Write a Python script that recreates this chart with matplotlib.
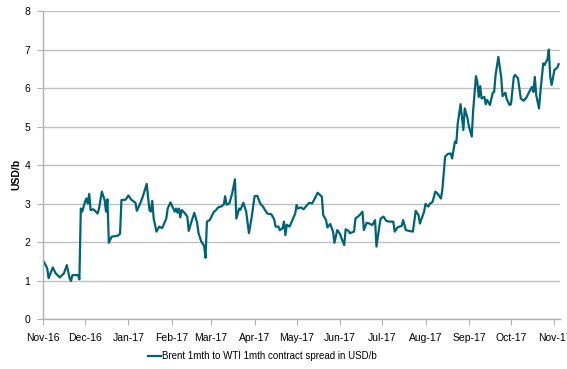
import matplotlib
matplotlib.use("Agg")
import matplotlib.pyplot as plt
import matplotlib.dates as mdates
import pandas as pd

plt.rcParams['font.family'] = ['Liberation Sans', 'DejaVu Sans']

# days since 1 Nov 2016
day_offsets = [0, 3, 4, 7, 9, 12, 15, 17, 19, 20, 21, 25, 26, 27, 28, 30, 31, 32, 33, 34,
               36, 39, 40, 42, 44, 45, 46, 47, 49, 53, 55, 56, 59, 61, 63, 66, 67, 69, 71, 74,
               76, 77, 78, 79, 81, 83, 85, 88, 89, 91, 92, 94, 95, 96, 97, 98, 99, 101, 103, 104,
               106, 108, 110, 111, 113, 115, 116, 117, 119, 122, 123, 125, 127, 129, 130, 131, 133, 135, 137, 138,
               140, 141, 143, 145, 147, 149, 151, 153, 155, 157, 160, 163, 165, 166, 168, 169, 171, 172, 173, 174,
               176, 178, 180, 181, 182, 184, 186, 188, 190, 192, 194, 196, 199, 200, 202, 203, 205, 207, 208, 210,
               212, 213, 215, 216, 218, 219, 222, 223, 226, 228, 229, 231, 233, 235, 237, 238, 240, 241, 243, 245,
               247, 250, 251, 253, 256, 257, 259, 261, 264, 266, 268, 269, 272, 273, 275, 276, 278, 280, 282, 284,
               285, 287, 289, 291, 292, 294, 295, 296, 298, 300, 301, 303, 304, 306, 307, 309, 310, 311, 312, 313,
               315, 316, 317, 319, 321, 322, 323, 325, 327, 328, 330, 331, 333, 334, 336, 337, 339, 341, 343, 345,
               347, 349, 350, 351, 352, 354, 355, 357, 358, 359, 360, 361, 362, 363, 365, 367, 368]

spread = [1.53, 1.32, 1.06, 1.34, 1.19, 1.08, 1.19, 1.40, 1.06, 0.99, 1.14, 1.14, 1.03, 2.87, 2.79, 3.05, 3.13, 3.00, 3.25, 2.83,
          2.85, 2.74, 2.87, 3.31, 3.09, 2.79, 3.11, 1.98, 2.14, 2.16, 2.21, 3.09, 3.10, 3.21, 3.10, 3.02, 2.81, 2.97, 3.15, 3.51,
          2.83, 2.79, 3.07, 2.61, 2.27, 2.40, 2.36, 2.61, 2.87, 3.03, 2.95, 2.79, 2.87, 2.76, 2.87, 2.64, 2.83, 2.76, 2.66, 2.29,
          2.53, 2.76, 2.50, 2.23, 2.01, 1.90, 1.59, 2.53, 2.57, 2.79, 2.81, 2.90, 2.92, 2.97, 3.19, 2.97, 3.00, 3.26, 3.63, 2.61,
          2.87, 2.84, 3.02, 2.79, 2.23, 2.66, 3.19, 3.20, 3.00, 2.92, 2.74, 2.72, 2.59, 2.40, 2.40, 2.31, 2.36, 2.53, 2.18, 2.45,
          2.40, 2.57, 2.74, 2.96, 2.87, 2.90, 2.85, 2.94, 3.02, 3.00, 3.13, 3.28, 3.18, 2.70, 2.57, 2.38, 2.47, 2.27, 1.98, 2.31,
          2.21, 2.10, 1.92, 2.33, 2.29, 2.23, 2.27, 2.61, 2.70, 2.79, 2.31, 2.50, 2.48, 2.44, 2.57, 1.88, 2.40, 2.61, 2.66, 2.55,
          2.53, 2.53, 2.27, 2.38, 2.42, 2.57, 2.31, 2.29, 2.27, 2.81, 2.70, 2.48, 2.79, 2.99, 2.92, 2.99, 3.04, 3.31, 3.24, 3.13,
          3.35, 4.22, 4.29, 4.30, 4.17, 4.61, 4.57, 5.08, 5.58, 4.91, 5.47, 5.21, 5.00, 4.74, 5.42, 6.31, 6.16, 5.77, 6.05, 5.73,
          5.77, 5.58, 5.69, 5.56, 5.88, 5.90, 6.34, 6.81, 6.29, 5.79, 5.88, 5.71, 5.56, 5.58, 6.29, 6.34, 6.25, 5.73, 5.67, 5.75,
          5.90, 6.03, 5.90, 6.29, 5.82, 5.47, 5.90, 6.64, 6.60, 6.68, 6.74, 7.00, 6.29, 6.08, 6.47, 6.53, 6.62]

series_label = "Brent 1mth to WTI 1mth contract spread in USD/b"
y_label = "USD/b"
y_ticks = [0, 1, 2, 3, 4, 5, 6, 7, 8]

start = pd.Timestamp("2016-11-01")
dates = [start + pd.Timedelta(days=d) for d in day_offsets]

fig = plt.figure(figsize=(5.67, 3.69), dpi=100)
ax = fig.add_axes([0.0758, 0.1355, 0.9119, 0.8345])

line, = ax.plot(dates, spread, color="#006374", linewidth=1.6, label=series_label)

ax.set_ylim(0, 8)
ax.set_yticks(y_ticks)
ax.set_xlim(start, start + pd.Timedelta(days=369))
ax.xaxis.set_major_locator(mdates.MonthLocator())
ax.xaxis.set_major_formatter(mdates.DateFormatter("%b-%y"))

ax.grid(axis="y", color="#c0c0c0", linewidth=1.0)
ax.set_axisbelow(True)
for s in ["top", "right"]:
    ax.spines[s].set_visible(False)
for s in ["left", "bottom"]:
    ax.spines[s].set_color("#b0b0b0")
    ax.spines[s].set_linewidth(1.0)
ax.tick_params(axis="both", colors="#b0b0b0", labelcolor="black", labelsize=7.5, length=4, width=0.8)
ax.tick_params(axis="x", pad=6)
ax.tick_params(axis="y", pad=5)

ax.set_ylabel(y_label, fontsize=7.5, fontweight="bold")
ax.yaxis.set_label_coords(-0.041, 0.47)

fig.legend(handles=[line], loc="center", bbox_to_anchor=(0.463, 0.035), frameon=False,
           fontsize=7, handlelength=1.4, handletextpad=0.1)

fig.savefig("out.png", dpi=100)
